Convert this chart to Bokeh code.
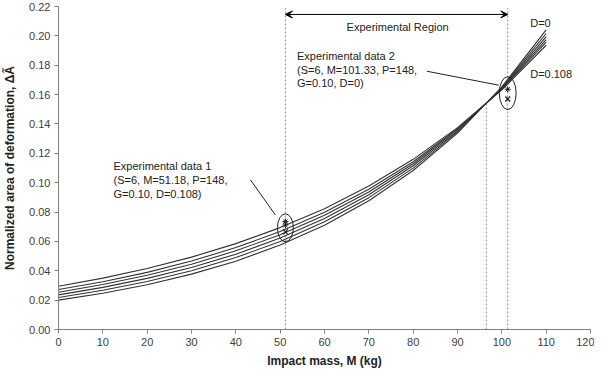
from bokeh.plotting import figure
from bokeh.models import FixedTicker, NumeralTickFormatter, Arrow, VeeHead, Label
from bokeh.embed import file_html
from bokeh.resources import INLINE

# ---- data ----
mass = [0, 10, 20, 30, 40, 50, 60, 70, 80, 90, 100, 110]
d_values = ["0", "0.0216", "0.0432", "0.0648", "0.0864", "0.108"]
curve_D0 = [0.0200, 0.0247, 0.0305, 0.0377, 0.0465, 0.0575, 0.0710, 0.0877, 0.1083, 0.1338, 0.1652, 0.2041]
curve_D1 = [0.0218, 0.0267, 0.0327, 0.0400, 0.0490, 0.0599, 0.0734, 0.0898, 0.1099, 0.1346, 0.1647, 0.2016]
curve_D2 = [0.0236, 0.0287, 0.0348, 0.0422, 0.0513, 0.0623, 0.0756, 0.0918, 0.1115, 0.1353, 0.1643, 0.1995]
curve_D3 = [0.0254, 0.0306, 0.0369, 0.0444, 0.0536, 0.0645, 0.0778, 0.0937, 0.1129, 0.1361, 0.1639, 0.1975]
curve_D4 = [0.0272, 0.0325, 0.0389, 0.0466, 0.0558, 0.0667, 0.0798, 0.0955, 0.1143, 0.1367, 0.1636, 0.1957]
curve_D5 = [0.0295, 0.0350, 0.0415, 0.0493, 0.0585, 0.0694, 0.0823, 0.0977, 0.1159, 0.1375, 0.1632, 0.1936]
curves = [curve_D0, curve_D1, curve_D2, curve_D3, curve_D4, curve_D5]

exp1_mass = 51.18
exp1_star = [0.0735, 0.0712]
exp1_x = [0.0665]
exp2_mass = 101.33
exp2_star = [0.1636]
exp2_x = [0.1570]

guide_x = [51.18, 96.5, 101.33]
guide_top = [0.219, 0.154, 0.219]

x_ticks = list(range(0, 121, 10))
y_ticks = [0.00, 0.02, 0.04, 0.06, 0.08, 0.10, 0.12, 0.14, 0.16, 0.18, 0.20, 0.22]

FONT = "Liberation Sans"

p = figure(width=594, height=370,
           x_range=(0, 120), y_range=(0, 0.22),
           output_backend="svg", toolbar_location=None,
           min_border_left=55, min_border_right=4, min_border_top=6, min_border_bottom=40)
p.outline_line_color = None
p.xgrid.grid_line_color = None
p.ygrid.grid_line_color = None
p.background_fill_color = "white"

for ax in (p.xaxis[0], p.yaxis[0]):
    ax.axis_line_color = "#808080"
    ax.major_tick_line_color = "#808080"
    ax.minor_tick_line_color = None
    ax.major_tick_in = 0
    ax.major_tick_out = 4
    ax.major_label_text_font = FONT
    ax.major_label_text_font_size = "11px"
    ax.major_label_text_color = "#404040"
    ax.axis_label_text_font = FONT
    ax.axis_label_text_font_size = "12px"
    ax.axis_label_text_font_style = "bold"
    ax.axis_label_text_color = "#222222"

p.xaxis.ticker = FixedTicker(ticks=x_ticks)
p.yaxis.ticker = FixedTicker(ticks=y_ticks)
p.yaxis.formatter = NumeralTickFormatter(format="0.00")
p.xaxis.axis_label = "Impact mass, M (kg)"
p.yaxis.axis_label = "Normalized area of deformation, ΔÃ"
p.xaxis.major_label_standoff = 4
p.xaxis.axis_label_standoff = 5
p.yaxis.major_label_standoff = 4
p.yaxis.axis_label_standoff = 9

# guide lines
p.segment(x0=guide_x, y0=[0] * len(guide_x), x1=guide_x, y1=guide_top,
          line_color="#8a8a8a", line_width=1, line_dash="2 2")

# curves
for c in curves:
    p.line(mass, c, line_color="#333333", line_width=1.1)

# experimental data
p.ellipse(x=[exp1_mass, exp2_mass], y=[0.0693, 0.1610], width=[3.6, 3.8], height=[0.019, 0.0224],
          fill_color=None, line_color="#222222", line_width=1)
p.scatter([exp1_mass] * len(exp1_star), exp1_star, marker="asterisk", size=6, line_color="#222222")
p.scatter([exp1_mass] * len(exp1_x), exp1_x, marker="x", size=7, line_color="#222222", line_width=1.3)
p.scatter([exp2_mass] * len(exp2_star), exp2_star, marker="asterisk", size=6, line_color="#222222")
p.scatter([exp2_mass] * len(exp2_x), exp2_x, marker="x", size=7, line_color="#222222", line_width=1.3)

# experimental region arrow
p.add_layout(Arrow(start=VeeHead(size=7, fill_color="black", line_color="black"),
                   end=VeeHead(size=7, fill_color="black", line_color="black"),
                   x_start=guide_x[0], y_start=0.2146, x_end=guide_x[2], y_end=0.2146,
                   line_color="black", line_width=1))

def label(x, y, txt, align="left"):
    p.add_layout(Label(x=x, y=y, text=txt, text_font=FONT, text_font_size="11px",
                       text_color="#222222", text_align=align, text_baseline="middle"))

label(76.5, 0.2057, "Experimental Region", "center")
label(106.4, 0.2090, "D=0")
label(106.4, 0.1738, "D=0.108")

label(53.8, 0.1860, "Experimental data 2")
label(53.8, 0.1769, "(S=6, M=101.33, P=148,")
label(53.8, 0.1677, "G=0.10, D=0)")
p.segment(x0=[83.1], y0=[0.1759], x1=[99.3], y1=[0.1664], line_color="#222222", line_width=1)

label(12.4, 0.1114, "Experimental data 1")
label(12.4, 0.1019, "(S=6, M=51.18, P=148,")
label(12.4, 0.0924, "G=0.10, D=0.108)")
p.segment(x0=[43.3], y0=[0.1019], x1=[48.9], y1=[0.0781], line_color="#222222", line_width=1)

open("out.html", "w").write(file_html(p, INLINE))
